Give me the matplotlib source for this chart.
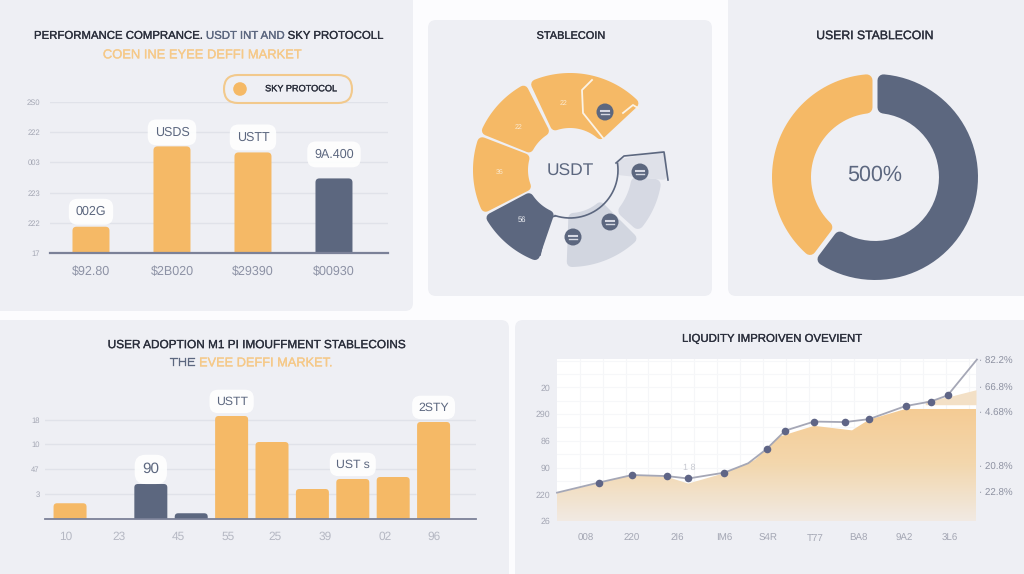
import numpy as np
import matplotlib
matplotlib.use('Agg')
import matplotlib.pyplot as plt
import matplotlib.patheffects as pe
from matplotlib.patches import FancyBboxPatch, Circle, Polygon

plt.rcParams['font.family'] = ['Liberation Sans', 'DejaVu Sans']
plt.rcParams['text.hinting'] = 'no_hinting'

W, H = 1024, 574
ORANGE = '#f5b966'
DARK = '#5c677f'
PANEL = '#eeeff4'
GRID = '#e0e2e9'
BASE = '#7b8198'
TICK = '#a3a6b3'
INK = '#2b2f3c'

# top left chart
perf_labels = ['$92.80', '$2B020', '$29390', '$00930']
perf_values = [0.87, 3.53, 3.33, 2.47]
perf_colors = [ORANGE, ORANGE, ORANGE, DARK]
perf_notes = ['002G', 'USDS', 'USTT', '9A.400']
perf_note_off = [15, 14, 15, 24]
perf_yticks = ['17', '222', '223', '003', '222', '2S0']

# segmented ring, angles in degrees
seg_orange = [(159, 207), (117, 158), (43, 115)]
seg_notes = ['36', '22', '22']
seg_dark = (208, 251)
seg_gray = (-92, -45)
seg_gray2 = (-42, -6)
seg_gray3 = (-6, 12)

# donut, shares of the circle
donut_values = [60.3, 39.7]
donut_colors = [DARK, ORANGE]

# bottom left chart
adopt_values = [0.63, 0, 1.4, 0.23, 4.12, 3.08, 1.2, 1.6, 1.68, 3.88]
adopt_colors = [ORANGE, ORANGE, DARK, DARK, ORANGE, ORANGE, ORANGE, ORANGE, ORANGE, ORANGE]
adopt_notes = {2: '90', 4: 'USTT', 7: 'UST s', 9: '2STY'}
adopt_xticks = [-0.1, 1.2, 2.67, 3.92, 5.07, 6.31, 7.8, 9.0]
adopt_xlabels = ['10', '23', '45', '55', '25', '39', '02', '96']
adopt_yticks = ['3', '47', '10', '18']

# bottom right chart
liq_x = [0, 0.92, 1.64, 2.40, 2.87, 3.66, 4.18, 4.58, 4.99, 5.62, 6.29, 6.82, 7.62, 8.17, 8.54, 9.18]
liq_y = [1.06, 1.44, 1.72, 1.68, 1.59, 1.81, 2.16, 2.69, 3.38, 3.72, 3.70, 3.81, 4.30, 4.47, 4.70, 6.04]
liq_marked = [1, 2, 3, 4, 5, 7, 8, 9, 10, 11, 12, 13, 14]
area_x = [0, 0.9, 1.63, 2.39, 2.87, 3.64, 4.33, 4.58, 4.85, 5.62, 6.45, 6.82, 7.62, 9.16]
area_y = [1.04, 1.41, 1.72, 1.66, 1.40, 1.78, 2.29, 2.72, 3.15, 3.56, 3.39, 3.79, 4.19, 4.19]
band_x = [8.05, 8.54, 9.16]
band_top = [4.50, 4.64, 4.91]
band_bottom = [4.35, 4.35, 4.35]
liq_xticks = [0.63, 1.64, 2.63, 3.66, 4.61, 5.64, 6.6, 7.6, 8.58]
liq_xlabels = ['008', '220', '2I6', 'IM6', 'S4R', 'T77', 'BA8', '9A2', '3L6']
liq_yticks = ['26', '220', '90', '86', '290', '20']
liq_rticks = [1.02, 1.99, 4.03, 4.97, 5.97]
liq_rlabels = ['22.8%', '20.8%', '4.68%', '66.8%', '82.2%']


fig = plt.figure(figsize=(W / 100, H / 100), dpi=100, facecolor='#fcfcfe')


def px_axes(x0, y0, x1, y1, zorder=2):
    ax = fig.add_axes([x0 / W, 1 - y1 / H, (x1 - x0) / W, (y1 - y0) / H], zorder=zorder)
    ax.patch.set_alpha(0)
    return ax


bg = px_axes(0, 0, W, H, zorder=0)
bg.set_xlim(0, W)
bg.set_ylim(H, 0)
bg.axis('off')
top = px_axes(0, 0, W, H, zorder=10)
top.set_xlim(0, W)
top.set_ylim(H, 0)
top.axis('off')

for x0, y0, x1, y1 in [(-20, -20, 413, 311), (428, 20, 712, 296), (728, -20, 1044, 296),
                       (-20, 320, 509, 594), (515, 320, 1044, 594)]:
    bg.add_patch(FancyBboxPatch((x0 + 8, y0 + 8), x1 - x0 - 16, y1 - y0 - 16,
                                boxstyle='round,pad=8,rounding_size=8', fc=PANEL, ec='none'))


def title(x, y, s, size, color=INK, ha='center'):
    t = top.text(x, y, s, color=color, fontsize=size, ha=ha, va='center')
    t.set_path_effects([pe.withStroke(linewidth=0.2, foreground=color)])
    return t


def multi_text(x, y, parts, size):
    # puts coloured pieces one after another, x is the left edge
    r = fig.canvas.get_renderer()
    for s, c in parts:
        t = title(x, y, s, size, c, 'left')
        x += t.get_window_extent(r).width


def bar_round(ax, x, w, h, color, r_px, px_x, px_y):
    # rounded bar, bottom is pushed under the axis so only the top is round
    r = r_px * px_x
    low = -r_px * px_y * 2
    ax.add_patch(FancyBboxPatch((x - w / 2 + r, low + r_px * px_y), w - 2 * r, h - low - 2 * r_px * px_y,
                                boxstyle='round,pad=%f,rounding_size=%f' % (r, r),
                                mutation_aspect=px_y / px_x, fc=color, ec='none', zorder=3))


def ring_seg(ax, a0, a1, r0, r1, d, color, gap=0.0, z=2):
    # ring piece with soft corners: a thinner piece with a thick round edge,
    # axes must be in pixels. side edges stay parallel to the cut
    off = d + gap
    rr0 = r0 + d
    rr1 = r1 - d
    t0 = a0 + np.degrees(np.arcsin(off / rr1))
    t1 = a1 - np.degrees(np.arcsin(off / rr1))
    s0 = a0 + np.degrees(np.arcsin(off / rr0))
    s1 = a1 - np.degrees(np.arcsin(off / rr0))
    out = np.radians(np.linspace(t0, t1, 60))
    inn = np.radians(np.linspace(s1, s0, 40))
    xs = np.r_[rr1 * np.cos(out), rr0 * np.cos(inn)]
    ys = np.r_[rr1 * np.sin(out), rr0 * np.sin(inn)]
    ax.add_patch(Polygon(np.c_[xs, ys], closed=True, fc=color, ec=color, lw=2 * d * 0.72,
                         joinstyle='round', zorder=z))


def clean(ax):
    for s in ax.spines.values():
        s.set_visible(False)


# top left
multi_text(34, 36, [('PERFORMANCE COMPRANCE. ', INK), ('USDT INT AND ', DARK), ('SKY PROTOCOLL', INK)], 8.2)
title(202, 55, 'COEN INE EYEE DEFFI MARKET', 9.3, '#f6c988')

ax1 = px_axes(50, 102, 388, 253)
ax1.set_xlim(-0.506, 3.667)
ax1.set_ylim(0, 5)
clean(ax1)
ax1.set_yticks(range(6))
ax1.set_yticklabels(perf_yticks, fontsize=5.5, color=TICK)
ax1.set_xticks(range(4))
ax1.set_xticklabels(perf_labels, fontsize=9, color='#8d92a5')
ax1.tick_params(length=0)
ax1.tick_params(axis='x', pad=9)
ax1.tick_params(axis='y', pad=7)
ax1.grid(axis='y', color=GRID, lw=1)
ax1.set_axisbelow(True)
for i, v in enumerate(perf_values):
    bar_round(ax1, i, 37 / 81, v, perf_colors[i], 4, 1 / 81, 5 / 151)
    ax1.annotate(perf_notes[i], (i, v), xytext=(0, perf_note_off[i] * 0.72), textcoords='offset points',
                 ha='center', va='center', fontsize=9, color=DARK, zorder=5,
                 bbox=dict(boxstyle='round,pad=0.55,rounding_size=0.7', fc='white', ec='none', alpha=0.9))
ax1.axhline(0, color=BASE, lw=1.6, zorder=4, clip_on=False)

top.add_patch(FancyBboxPatch((238, 89), 100, 0, boxstyle='round,pad=14,rounding_size=14',
                             fc=PANEL, ec='#f2c98c', lw=1.5))
top.add_patch(Circle((240, 89), 6.8, fc=ORANGE, ec='none'))
title(301, 89, 'SKY PROTOCOL', 6.6)

# segmented ring
title(571, 36, 'STABLECOIN', 7.9)
ax2 = px_axes(470, 70, 670, 270)
ax2.set_xlim(-100, 100)
ax2.set_ylim(-100, 100)
ax2.axis('off')

for a in seg_orange:
    ring_seg(ax2, a[0], a[1], 42, 97, 5, ORANGE, gap=0.5)
ring_seg(ax2, seg_dark[0], seg_dark[1], 45, 97, 5, DARK, gap=0.5)
ring_seg(ax2, seg_gray[0], seg_gray[1], 43, 97, 5, '#d2d6e0')
ring_seg(ax2, seg_gray2[0], seg_gray2[1], 62, 92, 6, '#d6d9e3')
ring_seg(ax2, seg_gray3[0], seg_gray3[1], 47, 97, 4, '#dfe1e9')

ang = np.radians(np.arange(8, -109, -4))
ax2.plot(48 * np.cos(ang), 48 * np.sin(ang), color=DARK, lw=1.2, zorder=4)
ax2.plot([-15, -22, -30], [-46, -48, -85], color=DARK, lw=1.2, zorder=4)
ax2.plot([46, 54, 94, 98], [7, 14, 18, -10], color=DARK, lw=1.2, zorder=4)
ax2.plot([22, 12, 13, 33], [90, 80, 57, 32], color='#fbf3e6', lw=1.3, zorder=4)
ax2.plot([53, 63, 68], [57, 65, 62], color='#fbf3e6', lw=1.3, zorder=4)

for (x, y) in [(35, 58), (70, -2), (40, -52), (3, -67)]:
    ax2.add_patch(Circle((x, y), 8.5, fc=DARK, ec='none', zorder=5))
    ax2.plot([x - 4, x + 4], [y + 1, y + 1], color='#d6d9e3', lw=1.5, zorder=6)
    ax2.plot([x - 4, x + 4], [y - 2, y - 2], color='#d6d9e3', lw=1, zorder=6)

ax2.text(-6, 67, seg_notes[2], color='#fbe9cf', fontsize=5, ha='center', va='center', zorder=5)
ax2.text(-51, 43, seg_notes[1], color='#fbe9cf', fontsize=5, ha='center', va='center', zorder=5)
ax2.text(-70, -2, seg_notes[0], color='#fbe9cf', fontsize=5, ha='center', va='center', zorder=5)
ax2.text(-48, -50, '56', color='#f1f2f6', fontsize=5.5, ha='center', va='center', zorder=5)
ax2.text(0, -1, 'USDT', color=DARK, fontsize=12.5, ha='center', va='center', zorder=5)

# donut
title(875, 36, 'USERI STABLECOIN', 8.8)
ax3 = px_axes(770, 72, 980, 282)
ax3.set_xlim(-105, 105)
ax3.set_ylim(-105, 105)
ax3.axis('off')
start = 90
for v, c in zip(donut_values, donut_colors):
    end = start - v * 3.6
    ring_seg(ax3, end, start, 64, 103, 6, c, gap=2.5)
    start = end
ax3.text(0, 2, '500%', color=DARK, fontsize=15.5, ha='center', va='center')

# bottom left
title(256, 345, 'USER ADOPTION M1 PI IMOUFFMENT STABLECOINS', 8.5)
multi_text(170, 363, [('THE ', DARK), ('EVEE DEFFI MARKET.', '#f6c988')], 9.2)

ax4 = px_axes(45, 409, 476, 519)
ax4.set_xlim(-0.62, 10.05)
ax4.set_ylim(0, 4.4)
clean(ax4)
ax4.set_yticks([1, 2, 3, 3.96])
ax4.set_yticklabels(adopt_yticks, fontsize=5.5, color=TICK)
ax4.set_xticks(adopt_xticks)
ax4.set_xticklabels(adopt_xlabels, fontsize=8.6, color='#b5b8c3')
ax4.tick_params(length=0)
ax4.tick_params(axis='x', pad=9)
ax4.tick_params(axis='y', pad=4)
ax4.grid(axis='y', color=GRID, lw=1)
ax4.set_axisbelow(True)
for i, v in enumerate(adopt_values):
    if v > 0:
        bar_round(ax4, i, 33 / 40.4, v, adopt_colors[i], 3.5, 1 / 40.4, 4.4 / 110)
    if i in adopt_notes:
        size = 11 if i == 2 else 8.8
        ax4.annotate(adopt_notes[i], (i, v), xytext=(0, 10.5), textcoords='offset points', ha='center', va='center',
                     fontsize=size, color=DARK, zorder=5, annotation_clip=False,
                     bbox=dict(boxstyle='round,pad=0.5,rounding_size=0.7', fc='white', ec='none', alpha=0.9))
ax4.axhline(0, color=BASE, lw=1.3, zorder=4, clip_on=False)

# bottom right
title(772, 339, 'LIQUDITY IMPROIVEN OVEVIENT', 8.2)
ax5 = px_axes(557, 359, 976, 521)
ax5.patch.set_alpha(1)
ax5.patch.set_facecolor('white')
clean(ax5)
ax5.set_yticks(range(6))
ax5.set_yticklabels(liq_yticks, fontsize=6.3, color=TICK)
ax5.set_xticks(liq_xticks)
ax5.set_xticklabels(liq_xlabels, fontsize=7, color=TICK)
ax5.tick_params(length=0)
ax5.tick_params(axis='x', pad=9)
ax5.tick_params(axis='y', pad=5)
for v in np.arange(0.5, 9.16, 0.5):
    ax5.axvline(v, color='#f5f6f8', lw=0.8, zorder=1)
for v in np.arange(0.5, 6.06, 0.5):
    ax5.axhline(v, color='#f6f7f9', lw=0.8, zorder=1)

grad = np.linspace(0, 1, 256).reshape(-1, 1)
cm = matplotlib.colors.LinearSegmentedColormap.from_list('fade', ['#f1eae3', '#f3d7ad', '#f5cb93'])
im = ax5.imshow(grad, origin='lower', extent=(0, 9.16, 0, 4.3), aspect='auto', cmap=cm, zorder=2)
poly = Polygon(list(zip(area_x, area_y)) + [(9.16, 0), (0, 0)], closed=True, transform=ax5.transData, fc='none', ec='none')
ax5.add_patch(poly)
im.set_clip_path(poly)
ax5.set_xlim(0, 9.16)
ax5.set_ylim(0, 6.06)
ax5.fill_between(band_x, band_bottom, band_top, color='#f3e0c6', lw=0, zorder=2)

ax5.plot(liq_x, liq_y, color='#a5a7b6', lw=1.3, zorder=3, clip_on=False)
ax5.scatter(np.array(liq_x)[liq_marked], np.array(liq_y)[liq_marked], s=30, color='#5f6586', zorder=4, linewidths=0)
ax5.text(2.9, 2.0, '1 8', color='#c6c8d0', fontsize=6.5, ha='center', va='center', zorder=4)

for v, s in zip(liq_rticks, liq_rlabels):
    ax5.annotate('· ' + s, (9.16, v), xytext=(2, 0), textcoords='offset points', ha='left', va='center',
                 fontsize=7, color='#8d91a1', annotation_clip=False)

fig.savefig('out.png', dpi=100)
